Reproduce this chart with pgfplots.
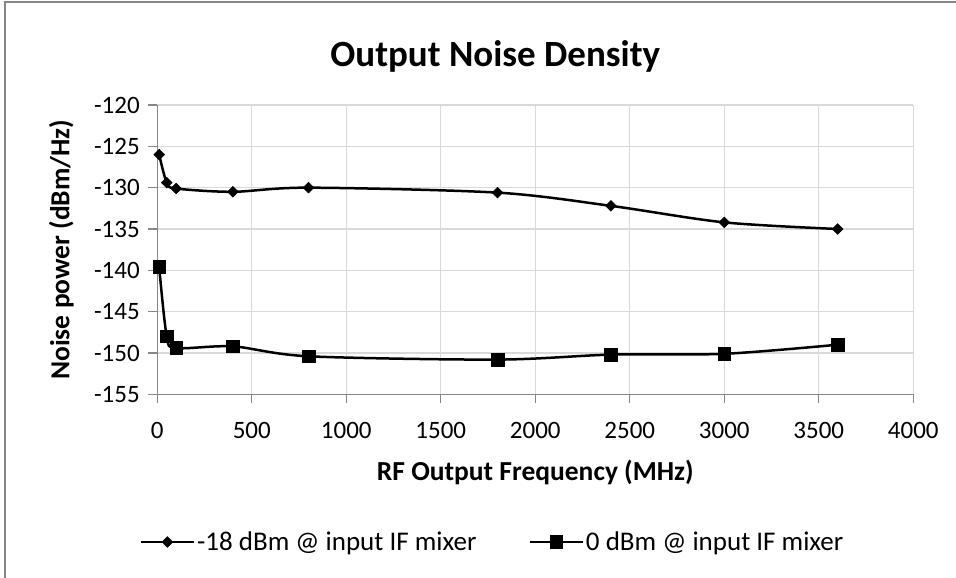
\documentclass[border=0pt]{standalone}
\usepackage{fontspec}
\setmainfont{Carlito}
\usepackage{pgfplots}
\pgfplotsset{compat=1.18}
\definecolor{gridc}{HTML}{D9D9D9}
\definecolor{axc}{HTML}{868686}
\begin{document}
\begin{tikzpicture}[x=1pt,y=1pt]
\path[use as bounding box] (0,0) rectangle (956,-578);
\draw[axc, line width=1.2pt] (5,-578) -- (5,-2) -- (956,-2);
\begin{axis}[
  at={(157.3pt,-394.3pt)}, anchor=south west,
  scale only axis, width=756pt, height=289.3pt,
  xmin=0, xmax=4000, ymin=-155, ymax=-120,
  xtick={0,500,...,4000}, ytick={-155,-150,...,-120},
  grid=major, major grid style={gridc, line width=1.2pt},
  axis x line*=bottom, axis y line*=left,
  axis line style={axc, line width=1.2pt, -},
  tick style={axc, line width=1.2pt},
  tick align=outside, major tick length=9pt,
  ticklabel style={font=\fontsize{25}{30}\selectfont, text=black},
  xticklabel style={yshift=-15pt},
  yticklabel style={xshift=-5pt},
  /pgf/number format/assume math mode=true,
  /pgf/number format/1000 sep={},
  title={\textbf{Output Noise Density}},
  title style={at={(axis description cs:0.447,1.147)}, anchor=center, yshift=0pt, font=\fontsize{37}{44}\selectfont},
  xlabel={\textbf{RF Output Frequency (MHz)}},
  xlabel style={at={(axis description cs:0.5,-0.269)}, anchor=center, yshift=0pt, font=\fontsize{27.5}{33}\selectfont},
  ylabel={\textbf{Noise power (dBm/Hz)}},
  ylabel style={at={(axis description cs:-0.127,0.5)}, anchor=center, rotate=0, yshift=0pt, font=\fontsize{27.5}{33}\selectfont},
  legend style={at={(axis description cs:0.4434,-0.5105)}, anchor=center, draw=none, fill=none,
    legend columns=2, font=\fontsize{27}{32}\selectfont,
    nodes={inner xsep=2pt, inner ysep=2pt},
    /tikz/every even column/.append style={column sep=50pt}},
  legend image code/.code={\draw[mark repeat=2,mark phase=2,#1] plot coordinates {(0pt,0pt) (26.5pt,0pt) (53pt,0pt)};},
]
\addplot[black, line width=2.5pt, smooth, tension=0.5, mark=square*, mark size=3.8pt,
  mark options={rotate=45, solid, fill=black, line width=0.5pt}] coordinates {
  (10,-126.0) (50,-129.4) (100,-130.1) (400,-130.5) (800,-130.0)
  (1800,-130.6) (2400,-132.2) (3000,-134.2) (3600,-135.0)};
\addlegendentry{-18 dBm @ input IF mixer}
\addplot[black, line width=2.5pt, smooth, tension=0.5, mark=square*, mark size=6.3pt,
  mark options={solid, fill=black, line width=0.5pt}] coordinates {
  (10,-139.6) (50,-148.0) (100,-149.4) (400,-149.2) (800,-150.4)
  (1800,-150.8) (2400,-150.2) (3000,-150.1) (3600,-149.0)};
\addlegendentry{0 dBm @ input IF mixer}
\end{axis}
\end{tikzpicture}
\end{document}
